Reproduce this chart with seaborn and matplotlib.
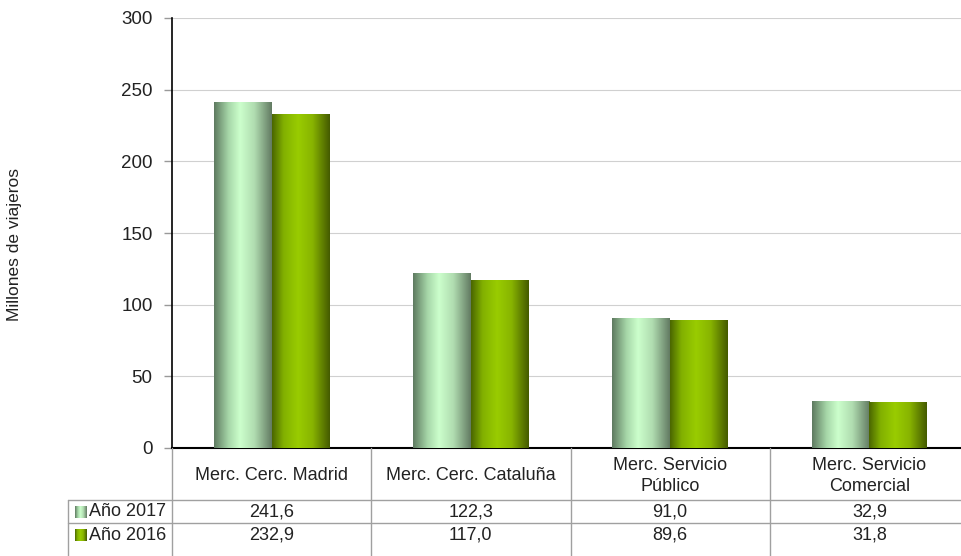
import numpy as np
import pandas as pd
import seaborn as sns
import matplotlib
import matplotlib.pyplot as plt
from matplotlib.colors import LinearSegmentedColormap
from matplotlib.lines import Line2D
import matplotlib.transforms as mtransforms

sns.set_theme(style="white")
plt.rcParams['font.family'] = ['Liberation Sans', 'DejaVu Sans']

categorias = ['Merc. Cerc. Madrid', 'Merc. Cerc. Cataluña',
              'Merc. Servicio\nPúblico', 'Merc. Servicio\nComercial']
series = ['Año 2017', 'Año 2016']
valores_2017 = [241.6, 122.3, 91.0, 32.9]
valores_2016 = [232.9, 117.0, 89.6, 31.8]
yticks = [0, 50, 100, 150, 200, 250, 300]

data = pd.DataFrame({
    'cat': categorias * 2,
    'serie': [series[0]] * 4 + [series[1]] * 4,
    'valor': valores_2017 + valores_2016,
})

cmaps = {
    'Año 2017': LinearSegmentedColormap.from_list(
        'c17', [(0, '#5e7a60'), (0.25, '#a6d6a8'), (0.45, '#ccffcc'),
                (0.7, '#b0dcb0'), (1, '#627a62')]),
    'Año 2016': LinearSegmentedColormap.from_list(
        'c16', [(0, '#4a6600'), (0.2, '#82b000'), (0.45, '#99cc00'),
                (0.7, '#88b400'), (1, '#445a00')]),
}

fig = plt.figure(figsize=(9.62, 5.56), dpi=100)
ax = fig.add_axes([172 / 962, 1 - 448 / 556, (969 - 172) / 962, (448 - 18) / 556])

sns.barplot(data=data, x='cat', y='valor', hue='serie', order=categorias,
            hue_order=series, width=0.58, palette=['#ccffcc', '#99cc00'],
            ax=ax, legend=False, linewidth=0, saturation=1)

grad = np.linspace(0, 1, 256).reshape(1, -1)
for cont, s in zip(ax.containers, series):
    for bar in cont:
        x0, y0 = bar.get_x(), bar.get_y()
        w, h = bar.get_width(), bar.get_height()
        im = ax.imshow(grad, cmap=cmaps[s], aspect='auto',
                       extent=[x0, x0 + w, y0, y0 + h], zorder=3)
        im.set_clip_path(bar)

ax.set_xlim(-0.5, 3.5)
ax.set_ylim(0, 300)
ax.set_yticks(yticks)
ax.set_yticklabels([str(t) for t in yticks], fontsize=13.5, color='#222222')
ax.tick_params(axis='y', length=6, color='#999999', width=1, pad=8, left=True)
ax.set_xticks([])
ax.set_xlabel('')
ax.set_ylabel('')
ax.yaxis.grid(True, color='#d0d0d0', linewidth=0.8)
ax.set_axisbelow(True)
for sp in ['top', 'right']:
    ax.spines[sp].set_visible(False)
ax.spines['left'].set_color('black')
ax.spines['left'].set_linewidth(1.2)
ax.spines['bottom'].set_color('black')
ax.spines['bottom'].set_linewidth(1.5)

fig.text(15 / 962, 1 - 245 / 556, 'Millones de viajeros', rotation=90,
         ha='center', va='center', fontsize=12.5, color='#222222')

# tabla de datos
trans = mtransforms.blended_transform_factory(ax.transData, fig.transFigure)
def fy(py):
    return 1 - py / 556

grid_c = '#a0a0a0'
for i in range(len(categorias)):
    fig.text(i, fy(476), categorias[i], transform=trans, ha='center',
             va='center', fontsize=13, color='#222222', linespacing=1.3)
    fig.text(i, fy(512), f'{valores_2017[i]:.1f}'.replace('.', ','),
             transform=trans, ha='center', va='center', fontsize=13, color='#222222')
    fig.text(i, fy(535), f'{valores_2016[i]:.1f}'.replace('.', ','),
             transform=trans, ha='center', va='center', fontsize=13, color='#222222')
    fig.add_artist(Line2D([i - 0.5, i - 0.5], [fy(448), fy(556)],
                          transform=trans, color=grid_c, linewidth=1))

for py in [500, 523]:
    fig.add_artist(Line2D([68 / 962, 1], [fy(py), fy(py)],
                          transform=fig.transFigure, color=grid_c, linewidth=1))
fig.add_artist(Line2D([68 / 962, 68 / 962], [fy(500), fy(556)],
                      transform=fig.transFigure, color=grid_c, linewidth=1))

# leyenda dentro de la tabla
for s, py in zip(series, [512, 535]):
    ax_key = fig.add_axes([75 / 962, fy(py + 6), 12 / 962, 12 / 556])
    ax_key.imshow(grad, cmap=cmaps[s], aspect='auto')
    ax_key.axis('off')
    fig.text(89 / 962, fy(py), s, ha='left', va='center', fontsize=13, color='#222222')

fig.savefig('out.png', dpi=100)
